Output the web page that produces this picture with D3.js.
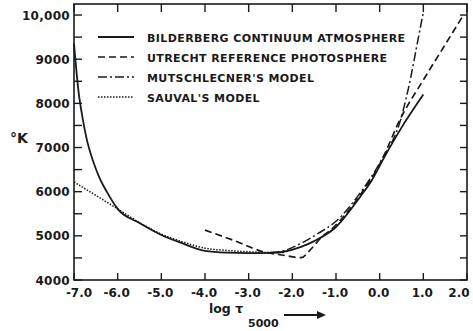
<!DOCTYPE html>
<html>
<head>
<meta charset="utf-8">
<script src="https://cdn.jsdelivr.net/npm/d3@7"></script>
<style>
  body { margin: 0; background: #fff; }
  text { font-family: "DejaVu Sans", sans-serif; font-weight: bold; fill: #1a1a1a; }
</style>
</head>
<body>
<div id="chart"></div>
<script>
// Data: log tau(5000) vs temperature (K)
const bilderberg = [
  [-7.0, 9350], [-6.9, 8300], [-6.8, 7650], [-6.7, 7150], [-6.6, 6800],
  [-6.5, 6520], [-6.4, 6280], [-6.25, 6000], [-6.0, 5610], [-5.5, 5290],
  [-5.0, 5020], [-4.57, 4850], [-4.0, 4660], [-3.5, 4620], [-3.0, 4610],
  [-2.5, 4615], [-2.2, 4640], [-1.8, 4750], [-1.5, 4880], [-1.0, 5200],
  [-0.45, 5880], [-0.18, 6260], [0.07, 6715], [0.5, 7450], [1.0, 8200]
];
const utrecht = [
  [-4.0, 5130], [-3.3, 4880], [-2.67, 4640], [-2.2, 4560], [-1.8, 4505],
  [-1.6, 4670], [-1.37, 4930], [-1.07, 5180], [-0.5, 5850], [0.0, 6620],
  [0.5, 7700], [1.0, 8530], [1.5, 9330], [1.9, 9970]
];
const mutschlecner = [
  [-2.5, 4625], [-2.3, 4640], [-1.8, 4830], [-1.4, 5060], [-1.0, 5330],
  [-0.5, 5900], [0.0, 6650], [0.5, 7700], [0.7, 8530], [0.85, 9300], [1.0, 10060]
];
const sauval = [
  [-7.0, 6220], [-6.0, 5610], [-5.5, 5300], [-5.0, 5040], [-4.5, 4860],
  [-4.0, 4720], [-3.5, 4670], [-3.0, 4640], [-2.5, 4620], [-2.2, 4620]
];
const xTicks = [-7, -6, -5, -4, -3, -2, -1, 0, 1, 2];
const yLabels = [4000, 5000, 6000, 7000, 8000, 9000, 10000];
const yTicks = d3.range(4000, 10001, 500);
const legendNames = [
  "BILDERBERG CONTINUUM ATMOSPHERE",
  "UTRECHT REFERENCE PHOTOSPHERE",
  "MUTSCHLECNER'S MODEL",
  "SAUVAL'S MODEL"
];

const width = 473, height = 331;
const x0 = 74, x1 = 467, yTop = 4, yBot = 280;

const svg = d3.select("#chart").append("svg")
  .attr("width", width)
  .attr("height", height);

const x = d3.scaleLinear().domain([-7, 2]).range([x0, x1]);
const y = d3.scaleLinear().domain([4000, 10250]).range([yBot, yTop]);

const ink = "#1a1a1a";

// frame
svg.append("rect")
  .attr("x", x0).attr("y", yTop)
  .attr("width", x1 - x0).attr("height", yBot - yTop)
  .attr("fill", "none").attr("stroke", ink).attr("stroke-width", 1.6);

// ticks, all pointing inward
const tk = svg.append("g").attr("stroke", ink).attr("stroke-width", 1.4);
xTicks.forEach(t => {
  tk.append("line").attr("x1", x(t)).attr("x2", x(t)).attr("y1", yBot).attr("y2", yBot - 7);
  tk.append("line").attr("x1", x(t)).attr("x2", x(t)).attr("y1", yTop).attr("y2", yTop + 8);
});
yTicks.forEach(t => {
  tk.append("line").attr("x1", x0).attr("x2", x0 + 8).attr("y1", y(t)).attr("y2", y(t));
  tk.append("line").attr("x1", x1).attr("x2", x1 - 7).attr("y1", y(t)).attr("y2", y(t));
});

// tick labels
svg.selectAll(".yl").data(yLabels).enter().append("text")
  .attr("x", 70).attr("y", d => y(d) + 4.5)
  .attr("text-anchor", "end")
  .style("font-size", "12px")
  .style("letter-spacing", "0.3px")
  .text(d => d === 10000 ? "10,000" : d);

// first and last labels are nudged inside the frame, as in the original
const xShift = d => (d === -7 ? 5 : d === 2 ? -8 : -1);
svg.selectAll(".xl").data(xTicks).enter().append("text")
  .attr("x", d => x(d) + xShift(d)).attr("y", 297)
  .attr("text-anchor", "middle")
  .style("font-size", "12px")
  .text(d => (d < 0 ? "-" + Math.abs(d).toFixed(1) : d.toFixed(1)));

// axis titles
svg.append("text").attr("x", 10).attr("y", 143)
  .style("font-size", "14px").text("°K");

svg.append("text").attr("x", 209).attr("y", 313)
  .style("font-size", "12.5px").text("log τ");
svg.append("text").attr("x", 248).attr("y", 327)
  .style("font-size", "11px").text("5000");
svg.append("line")
  .attr("x1", 284).attr("x2", 320).attr("y1", 315).attr("y2", 315)
  .attr("stroke", ink).attr("stroke-width", 1.8);
svg.append("path")
  .attr("d", "M326,315 L317,311 L317,319 Z")
  .attr("fill", ink);

// curves
const line = d3.line()
  .x(d => x(d[0]))
  .y(d => y(d[1]))
  .curve(d3.curveMonotoneX);

const styles = [
  { data: bilderberg, dash: null, w: 1.8 },
  { data: utrecht, dash: "7,4", w: 1.7 },
  { data: mutschlecner, dash: "9,3,2,3", w: 1.5 },
  { data: sauval, dash: "1.5,1.5", w: 1.5 }
];

styles.forEach(s => {
  svg.append("path")
    .attr("d", line(s.data))
    .attr("fill", "none")
    .attr("stroke", ink)
    .attr("stroke-width", s.w)
    .attr("stroke-dasharray", s.dash);
});

// legend
const lg = svg.append("g");
legendNames.forEach((name, i) => {
  const ly = 37 + i * 20;
  lg.append("line")
    .attr("x1", 98).attr("x2", 134).attr("y1", ly).attr("y2", ly)
    .attr("stroke", ink)
    .attr("stroke-width", styles[i].w)
    .attr("stroke-dasharray", styles[i].dash);
  lg.append("text")
    .attr("x", 147).attr("y", ly + 4.5)
    .style("font-size", "11px")
    .style("letter-spacing", "0.4px")
    .text(name);
});
</script>
</body>
</html>
